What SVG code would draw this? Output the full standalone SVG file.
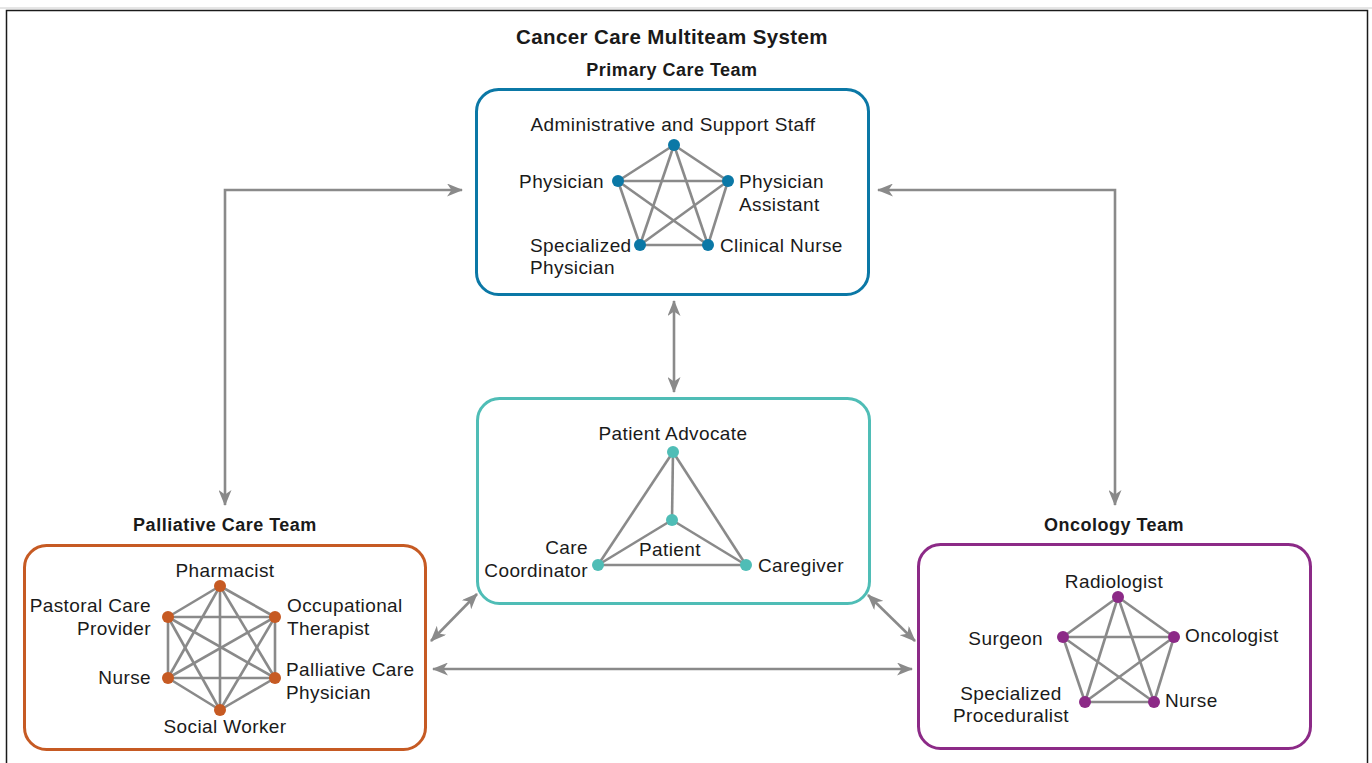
<svg xmlns="http://www.w3.org/2000/svg" width="1372" height="763" viewBox="0 0 1372 763">
<style>
text{font-family:"Liberation Sans",Arial,sans-serif;fill:#1a1a1a;font-size:19px;letter-spacing:0.4px}
.t{font-weight:bold;font-size:20.5px;letter-spacing:0.4px}
.h{font-weight:bold;font-size:18px;letter-spacing:0.5px}
.m{text-anchor:middle}
.e{text-anchor:end}
.box{fill:none;stroke-width:3}
.ed{stroke:#8a8a8a;stroke-width:2.6;fill:none}
.cn{stroke:#8a8a8a;stroke-width:2.6;fill:none}
</style>
<defs>
<marker id="ah" viewBox="0 0 16 13" refX="15" refY="6.5" markerWidth="16" markerHeight="13" markerUnits="userSpaceOnUse" orient="auto-start-reverse">
<path d="M0,0 L16,6.5 L0,13 L4.5,6.5 Z" fill="#8a8a8a"/>
</marker>
</defs>
<rect width="1372" height="763" fill="#fff"/>
<line x1="0" y1="8" x2="1372" y2="8" stroke="#ccc" stroke-width="1"/>
<rect x="6.5" y="10.5" width="1361" height="770" fill="none" stroke="#1a1a1a" stroke-width="1.5"/>
<text class="t m" x="672" y="44">Cancer Care Multiteam System</text>

<g id="connectors">
<path class="cn" d="M225,505 V190 H462" marker-start="url(#ah)" marker-end="url(#ah)"/>
<path class="cn" d="M878,190 H1115 V505" marker-start="url(#ah)" marker-end="url(#ah)"/>
<line class="cn" x1="674" y1="301" x2="674" y2="392" marker-start="url(#ah)" marker-end="url(#ah)"/>
<line class="cn" x1="477" y1="594" x2="431" y2="641" marker-start="url(#ah)" marker-end="url(#ah)"/>
<line class="cn" x1="868" y1="595" x2="915" y2="641" marker-start="url(#ah)" marker-end="url(#ah)"/>
<line class="cn" x1="433" y1="669" x2="912" y2="669" marker-start="url(#ah)" marker-end="url(#ah)"/>
</g>

<g id="primary-care-team">
<text class="h m" x="672" y="76">Primary Care Team</text>
<rect class="box" x="476.5" y="89.5" width="392" height="205" rx="22" stroke="#0b78a6"/>
<g class="ed">
<line x1="674" y1="145" x2="618" y2="181"/><line x1="674" y1="145" x2="728" y2="181"/>
<line x1="674" y1="145" x2="640" y2="245"/><line x1="674" y1="145" x2="708" y2="245"/>
<line x1="618" y1="181" x2="728" y2="181"/><line x1="618" y1="181" x2="640" y2="245"/>
<line x1="618" y1="181" x2="708" y2="245"/><line x1="728" y1="181" x2="640" y2="245"/>
<line x1="728" y1="181" x2="708" y2="245"/><line x1="640" y1="245" x2="708" y2="245"/>
</g>
<g fill="#0b78a6">
<circle cx="674" cy="145" r="6"/><circle cx="618" cy="181" r="6"/><circle cx="728" cy="181" r="6"/>
<circle cx="640" cy="245" r="6"/><circle cx="708" cy="245" r="6"/>
</g>
<text class="m" x="673" y="131">Administrative and Support Staff</text>
<text class="e" x="604" y="188">Physician</text>
<text x="739" y="188">Physician</text>
<text x="739" y="211">Assistant</text>
<text x="530" y="252">Specialized</text>
<text x="530" y="274">Physician</text>
<text x="720" y="252">Clinical Nurse</text>
</g>

<g id="patient-team">
<rect class="box" x="477.5" y="398.5" width="392" height="205" rx="22" stroke="#4fbdb6"/>
<g class="ed">
<line x1="673" y1="452" x2="598" y2="565"/><line x1="673" y1="452" x2="746" y2="565"/>
<line x1="673" y1="452" x2="672" y2="520"/><line x1="672" y1="520" x2="598" y2="565"/>
<line x1="672" y1="520" x2="746" y2="565"/><line x1="598" y1="565" x2="746" y2="565"/>
</g>
<g fill="#4fbdb6">
<circle cx="673" cy="452" r="6"/><circle cx="672" cy="520" r="6"/>
<circle cx="598" cy="565" r="6"/><circle cx="746" cy="565" r="6"/>
</g>
<text class="m" x="673" y="440">Patient Advocate</text>
<text class="m" x="670" y="556">Patient</text>
<text class="e" x="588" y="554">Care</text>
<text class="e" x="588" y="577">Coordinator</text>
<text x="758" y="572">Caregiver</text>
</g>

<g id="palliative-care-team">
<text class="h m" x="225" y="531">Palliative Care Team</text>
<rect class="box" x="24.5" y="545.5" width="401" height="204" rx="22" stroke="#c65a23"/>
<g class="ed">
<line x1="220" y1="586" x2="168" y2="617"/><line x1="220" y1="586" x2="275" y2="617"/>
<line x1="220" y1="586" x2="168" y2="678"/><line x1="220" y1="586" x2="275" y2="678"/>
<line x1="220" y1="586" x2="220" y2="710"/>
<line x1="168" y1="617" x2="275" y2="617"/><line x1="168" y1="617" x2="168" y2="678"/>
<line x1="168" y1="617" x2="275" y2="678"/><line x1="168" y1="617" x2="220" y2="710"/>
<line x1="275" y1="617" x2="168" y2="678"/><line x1="275" y1="617" x2="275" y2="678"/>
<line x1="275" y1="617" x2="220" y2="710"/>
<line x1="168" y1="678" x2="275" y2="678"/><line x1="168" y1="678" x2="220" y2="710"/>
<line x1="275" y1="678" x2="220" y2="710"/>
</g>
<g fill="#c65a23">
<circle cx="220" cy="586" r="6"/><circle cx="168" cy="617" r="6"/><circle cx="275" cy="617" r="6"/>
<circle cx="168" cy="678" r="6"/><circle cx="275" cy="678" r="6"/><circle cx="220" cy="710" r="6"/>
</g>
<text class="m" x="225" y="577">Pharmacist</text>
<text class="e" x="151" y="612">Pastoral Care</text>
<text class="e" x="151" y="635">Provider</text>
<text x="287" y="612">Occupational</text>
<text x="287" y="635">Therapist</text>
<text class="e" x="151" y="684">Nurse</text>
<text x="286" y="676">Palliative Care</text>
<text x="286" y="699">Physician</text>
<text class="m" x="225" y="733">Social Worker</text>
</g>

<g id="oncology-team">
<text class="h m" x="1114" y="531">Oncology Team</text>
<rect class="box" x="918.5" y="544.5" width="392" height="204" rx="22" stroke="#8c2a87"/>
<g class="ed">
<line x1="1118" y1="597" x2="1063" y2="637"/><line x1="1118" y1="597" x2="1174" y2="637"/>
<line x1="1118" y1="597" x2="1085" y2="702"/><line x1="1118" y1="597" x2="1154" y2="702"/>
<line x1="1063" y1="637" x2="1174" y2="637"/><line x1="1063" y1="637" x2="1085" y2="702"/>
<line x1="1063" y1="637" x2="1154" y2="702"/><line x1="1174" y1="637" x2="1085" y2="702"/>
<line x1="1174" y1="637" x2="1154" y2="702"/><line x1="1085" y1="702" x2="1154" y2="702"/>
</g>
<g fill="#8c2a87">
<circle cx="1118" cy="597" r="6"/><circle cx="1063" cy="637" r="6"/><circle cx="1174" cy="637" r="6"/>
<circle cx="1085" cy="702" r="6"/><circle cx="1154" cy="702" r="6"/>
</g>
<text class="m" x="1114" y="588">Radiologist</text>
<text class="e" x="1043" y="645">Surgeon</text>
<text x="1185" y="642">Oncologist</text>
<text class="m" x="1011" y="700">Specialized</text>
<text class="m" x="1011" y="722">Proceduralist</text>
<text x="1165" y="707">Nurse</text>
</g>
</svg>
